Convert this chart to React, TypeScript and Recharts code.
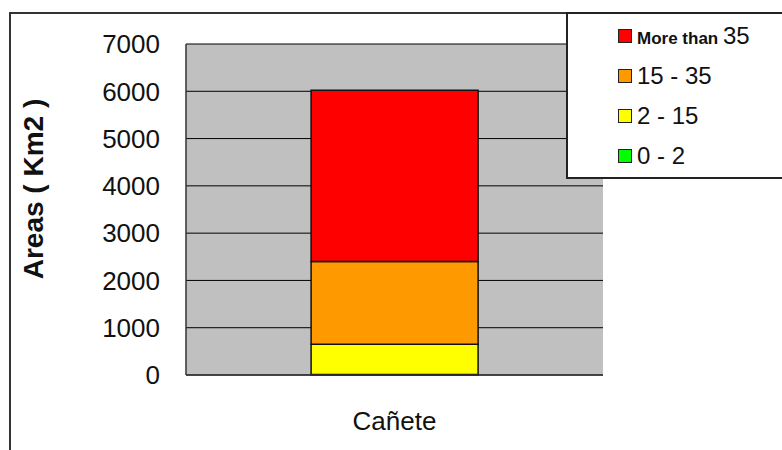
import React from 'react';
import { BarChart, Bar, XAxis, YAxis, CartesianGrid, Legend } from 'recharts';

const categories = ['Cañete'];
const seriesNames = ['0 - 2', '2 - 15', '15 - 35', 'More than 35'];
const seriesColors = ['#00FF00', '#FFFF00', '#FF9900', '#FF0000'];
const green = [10];
const yellow = [640];
const orange = [1750];
const red = [3620];
const yTicks = [0, 1000, 2000, 3000, 4000, 5000, 6000, 7000];

const FONT = '"Liberation Sans", Arial, sans-serif';

const data = categories.map((name, i) => ({
  name,
  s0: green[i],
  s1: yellow[i],
  s2: orange[i],
  s3: red[i],
}));

const LegendLabel = ({ text }: { text: string }) => {
  if (text.startsWith('More than')) {
    const rest = text.replace('More than', '').trim();
    return (
      <span>
        <span style={{ fontSize: 17, fontWeight: 'bold' }}>More than </span>
        <span style={{ fontSize: 24 }}>{rest}</span>
      </span>
    );
  }
  return <span style={{ fontSize: 24 }}>{text}</span>;
};

const LegendBox = (props: any) => {
  // legend lists the stack top-down, i.e. reverse of series order
  const items = [...(props.payload || [])].sort(
    (a: any, b: any) => seriesNames.indexOf(String(b.value)) - seriesNames.indexOf(String(a.value))
  );
  return (
    <div
      style={{
        width: 230,
        height: 161,
        border: '2px solid #222',
        background: '#fff',
        boxSizing: 'content-box',
        paddingTop: 2,
        fontFamily: FONT,
        color: '#111',
      }}
    >
      {items.map((it: any, i: number) => (
        <div key={i} style={{ height: 40, display: 'flex', alignItems: 'center', paddingLeft: 50 }}>
          <span
            style={{
              display: 'inline-block',
              width: 12,
              height: 12,
              background: it.color,
              border: '1.5px solid #222',
              marginRight: 5,
            }}
          />
          <LegendLabel text={String(it.value)} />
        </div>
      ))}
    </div>
  );
};

const YLabel = () => (
  <text
    x={33}
    y={189}
    transform="rotate(-90 33 189)"
    textAnchor="middle"
    dominantBaseline="central"
    fontFamily={FONT}
    fontSize={28}
    fontWeight="bold"
    fill="#111"
  >
    Areas ( Km2 )
  </text>
);

export default function App() {
  return (
    <div style={{ position: 'absolute', left: 0, top: 0, width: 782, height: 450, overflow: 'hidden', background: '#fff' }}>
      <div
        style={{
          position: 'absolute',
          left: 9,
          top: 12,
          width: 900,
          height: 600,
          border: '2px solid #333',
        }}
      />
      <div style={{ position: 'absolute', left: 0, top: 0 }}>
        <BarChart
          width={782}
          height={450}
          data={data}
          margin={{ top: 44, right: 179, left: 0, bottom: 0 }}
          barCategoryGap="30%"
        >
          <CartesianGrid vertical={false} stroke="#000" fill="#C0C0C0" fillOpacity={1} />
          <XAxis
            dataKey="name"
            height={75}
            tickLine={false}
            tickSize={0}
            tickMargin={37}
            axisLine={{ stroke: '#333', strokeWidth: 1.5 }}
            tick={{ fontFamily: FONT, fontSize: 26, fill: '#111' }}
          />
          <YAxis
            width={186}
            domain={[0, 7000]}
            ticks={yTicks}
            interval={0}
            tickLine={false}
            tickSize={0}
            tickMargin={26}
            axisLine={{ stroke: '#333', strokeWidth: 1.5 }}
            tick={{ fontFamily: FONT, fontSize: 26, fill: '#111' }}
            label={<YLabel />}
          />
          <YAxis
            yAxisId="r"
            orientation="right"
            width={0}
            domain={[0, 7000]}
            tick={false}
            tickLine={false}
            axisLine={{ stroke: '#555', strokeWidth: 1.5 }}
          />
          <Legend
            layout="horizontal"
            verticalAlign="middle"
            align="center"
            content={<LegendBox />}
            wrapperStyle={{ left: 566, top: 12, width: 240, height: 170 }}
          />
          {seriesNames.map((n, i) => (
            <Bar
              key={n}
              dataKey={`s${i}`}
              name={n}
              stackId="a"
              fill={seriesColors[i]}
              stroke="#111"
              strokeWidth={1.5}
              isAnimationActive={false}
            />
          ))}
        </BarChart>
      </div>
    </div>
  );
}
